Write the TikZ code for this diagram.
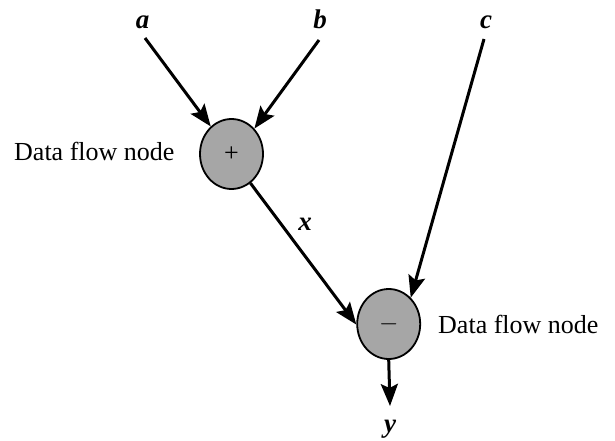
\documentclass[tikz,border=0pt]{standalone}
\usepackage{fontspec}
\setmainfont{Liberation Serif}
\usetikzlibrary{arrows.meta,shapes.geometric}
\begin{document}
\begin{tikzpicture}[x=1pt,y=-1pt,
  flownode/.style={ellipse,draw=black,line width=1.8pt,fill=black!35,minimum width=63pt,minimum height=70pt,inner sep=0pt},
  varlabel/.style={inner sep=0pt,anchor=base,font=\fontsize{27}{30}\selectfont\bfseries\itshape},
  desc/.style={inner sep=0pt,anchor=base west,font=\fontsize{26}{30}\selectfont},
  flow/.style={line width=3pt,-{Stealth[length=22pt,width=17pt,inset=4pt]}}]
\useasboundingbox (0,0) rectangle (615,441);
\node[flownode] (n1) at (231.5,154) {\fontsize{26}{26}\selectfont +};
\node[flownode] (n2) at (388.7,324) {\fontsize{26}{26}\selectfont $-$};
\node[varlabel] (la) at (142.5,29) {a};
\node[varlabel] (lb) at (320,29) {b};
\node[varlabel] (lc) at (486,29) {c};
\node[varlabel] (lx) at (305,230) {x};
\node[varlabel] (ly) at (390,432) {y};
\node[desc] (d1) at (14,160) {Data flow node};
\node[desc] (d2) at (438,333) {Data flow node};
\coordinate (a0) at (145,38);
\coordinate (b0) at (319,40);
\coordinate (c0) at (484,39);
\coordinate (y0) at (390,406);
\draw[flow] (a0) -- (n1.127);
\draw[flow] (b0) -- (n1.48);
\draw[flow] (n1.-57) -- (n2.181);
\draw[flow] (c0) -- (n2.50);
\draw[flow] (n2.south) -- (y0);
\end{tikzpicture}
\end{document}
